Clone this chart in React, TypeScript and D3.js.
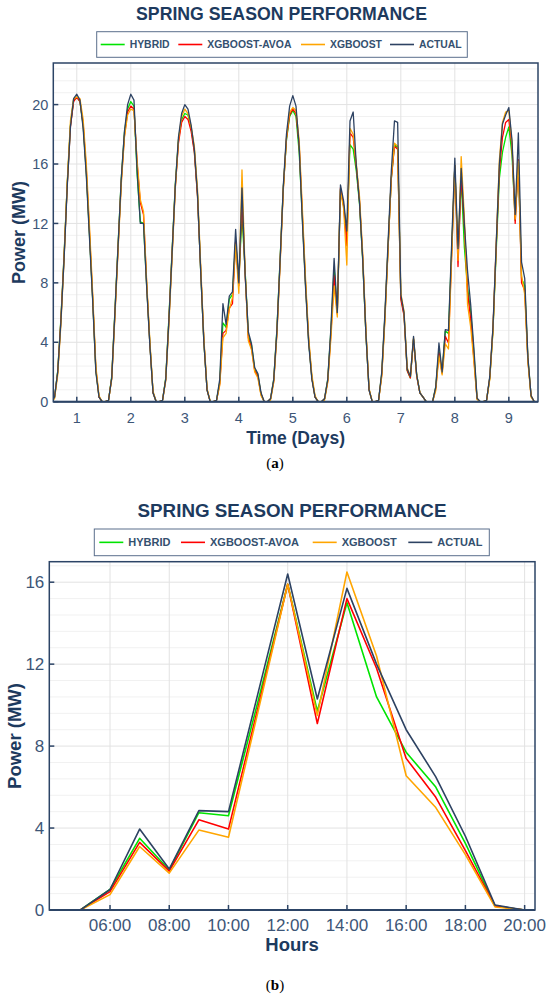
import React from 'react';
import * as d3 from 'd3';

// hourly samples 04:00 .. 20:00 for each of the 9 spring days
const HOURS = [4, 5, 6, 7, 8, 9, 10, 11, 12, 13, 14, 15, 16, 17, 18, 19, 20];
const DAY_TICKS = [1, 2, 3, 4, 5, 6, 7, 8, 9];
const HOUR_TICKS = [6, 8, 10, 12, 14, 16, 18, 20];
const POWER_TICKS_A = [0, 4, 8, 12, 16, 20];
const POWER_TICKS_B = [0, 4, 8, 12, 16];
const ZOOM_DAY = 8;

const ACTUAL = [
  [0, 0.3, 2.0, 5.4, 9.6, 14.5, 18.5, 20.4, 20.7, 20.3, 18.4, 15.2, 11.0, 6.8, 2.0, 0.3, 0],
  [0, 0.1, 1.6, 6.0, 10.5, 15.0, 18.2, 20.0, 20.7, 20.3, 15.5, 12.0, 12.0, 7.7, 3.8, 0.6, 0],
  [0, 0.1, 1.5, 5.5, 10.0, 14.5, 17.8, 19.4, 20.0, 19.7, 18.6, 17.0, 14.0, 8.8, 4.0, 0.8, 0],
  [0, 0.1, 1.5, 6.6, 5.2, 7.1, 7.4, 11.6, 8.0, 14.4, 8.5, 4.7, 3.9, 2.3, 1.9, 0.6, 0],
  [0, 0.2, 1.5, 4.8, 9.5, 14.5, 18.0, 19.9, 20.6, 19.9, 17.2, 12.2, 7.7, 3.9, 1.5, 0.3, 0],
  [0, 0.2, 1.5, 5.0, 9.65, 6.0, 14.6, 13.5, 11.5, 18.9, 19.5, 15.9, 13.4, 9.6, 4.6, 0.8, 0],
  [0, 0.1, 2.0, 6.0, 10.8, 15.5, 18.9, 18.8, 7.2, 6.0, 2.2, 1.7, 4.4, 1.8, 0.6, 0.3, 0],
  [0, 0, 1.0, 3.95, 2.0, 4.85, 4.8, 10.6, 16.4, 10.3, 15.7, 12.0, 8.8, 6.5, 3.6, 0.24, 0],
  [0, 0.1, 1.7, 5.0, 10.5, 15.9, 18.7, 19.3, 19.8, 17.6, 12.6, 18.1, 9.4, 8.3, 3.0, 0.4, 0],
];

const HYBRID = [
  [0, 0.3, 2.1, 5.6, 9.9, 14.7, 18.6, 20.3, 20.5, 20.2, 18.6, 15.4, 11.2, 6.9, 2.1, 0.3, 0],
  [0, 0.1, 1.7, 6.1, 10.6, 15.0, 18.1, 19.7, 20.2, 19.9, 15.3, 12.1, 12.0, 7.8, 3.9, 0.6, 0],
  [0, 0.1, 1.6, 5.7, 10.2, 14.6, 17.6, 19.0, 19.4, 19.3, 18.4, 16.9, 13.9, 8.8, 4.0, 0.8, 0],
  [0, 0.1, 1.3, 5.3, 5.0, 6.9, 7.2, 10.8, 8.2, 12.5, 8.8, 4.5, 3.8, 2.2, 1.8, 0.5, 0],
  [0, 0.2, 1.5, 4.9, 9.6, 14.4, 17.6, 19.2, 19.6, 19.2, 16.8, 12.4, 7.9, 4.0, 1.6, 0.3, 0],
  [0, 0.2, 1.5, 4.8, 9.0, 6.0, 14.3, 13.2, 11.2, 17.3, 17.0, 15.5, 13.3, 9.5, 4.6, 0.8, 0],
  [0, 0.1, 1.9, 5.8, 10.5, 15.0, 17.3, 17.1, 7.0, 5.9, 2.1, 1.6, 4.2, 1.8, 0.6, 0.3, 0],
  [0, 0, 1.0, 3.5, 1.95, 4.75, 4.6, 10.2, 15.9, 9.7, 15.0, 10.4, 7.7, 6.0, 3.25, 0.2, 0],
  [0, 0.1, 1.6, 4.8, 10.0, 15.0, 16.8, 17.8, 18.5, 16.6, 12.2, 16.2, 8.3, 7.8, 2.9, 0.4, 0],
];

const XGBOOST_AVOA = [
  [0, 0.3, 2.0, 5.5, 9.8, 14.6, 18.5, 20.2, 20.5, 20.2, 18.7, 15.6, 11.4, 7.0, 2.2, 0.3, 0],
  [0, 0.1, 1.6, 5.9, 10.4, 14.8, 17.9, 19.5, 19.9, 19.7, 16.0, 13.4, 12.6, 7.9, 3.9, 0.6, 0],
  [0, 0.1, 1.5, 5.5, 10.0, 14.4, 17.4, 18.8, 19.2, 19.0, 18.2, 16.8, 13.8, 8.9, 4.1, 0.8, 0],
  [0, 0.1, 1.2, 4.6, 4.8, 6.3, 6.6, 10.8, 7.8, 13.6, 8.6, 4.3, 3.6, 2.1, 1.7, 0.5, 0],
  [0, 0.2, 1.4, 4.7, 9.4, 14.3, 17.7, 19.3, 19.7, 19.4, 17.3, 12.6, 8.0, 4.1, 1.6, 0.3, 0],
  [0, 0.2, 1.4, 4.6, 8.5, 5.9, 14.4, 13.2, 10.5, 18.1, 17.8, 15.8, 13.5, 9.7, 4.7, 0.8, 0],
  [0, 0.1, 1.8, 5.7, 10.4, 15.0, 17.2, 17.0, 6.9, 5.8, 2.1, 1.6, 4.2, 1.7, 0.6, 0.3, 0],
  [0, 0, 0.9, 3.3, 1.9, 4.4, 3.95, 9.9, 15.9, 9.1, 15.2, 11.8, 7.4, 5.5, 2.9, 0.2, 0],
  [0, 0.1, 1.6, 4.9, 10.3, 15.5, 17.8, 18.8, 19.0, 17.2, 12.0, 16.3, 8.0, 7.5, 2.8, 0.4, 0],
];

const XGBOOST = [
  [0, 0.2, 1.8, 5.2, 9.6, 14.8, 18.9, 20.4, 20.5, 20.4, 19.0, 16.0, 11.8, 7.3, 2.4, 0.4, 0],
  [0, 0.1, 1.5, 5.7, 10.2, 14.6, 17.8, 19.3, 19.7, 19.6, 16.2, 13.6, 12.8, 8.1, 4.1, 0.7, 0],
  [0, 0.1, 1.4, 5.2, 9.7, 14.3, 17.6, 19.2, 19.7, 19.4, 18.5, 17.2, 14.3, 9.2, 4.3, 0.9, 0],
  [0, 0.1, 1.1, 4.3, 4.6, 6.2, 7.0, 10.6, 7.3, 15.6, 8.7, 4.1, 3.5, 2.0, 1.6, 0.4, 0],
  [0, 0.1, 1.3, 4.5, 9.2, 14.2, 17.8, 19.5, 19.8, 19.6, 17.6, 13.0, 8.3, 4.3, 1.8, 0.4, 0],
  [0, 0.1, 1.3, 4.3, 7.8, 5.7, 14.2, 13.0, 9.2, 18.4, 18.0, 16.0, 13.8, 10.0, 4.9, 0.9, 0],
  [0, 0.1, 1.7, 5.5, 10.3, 15.1, 17.4, 17.2, 7.3, 6.1, 2.3, 1.7, 4.3, 1.8, 0.6, 0.3, 0],
  [0, 0, 0.75, 3.1, 1.8, 3.9, 3.55, 9.7, 15.9, 9.5, 16.5, 12.4, 6.55, 5.0, 2.7, 0.15, 0],
  [0, 0.1, 1.5, 4.7, 10.4, 16.2, 18.8, 19.5, 19.6, 17.4, 12.3, 16.2, 8.5, 7.2, 2.7, 0.3, 0],
];

const SERIES = [
  { name: 'HYBRID', color: '#00e400', rows: HYBRID },
  { name: 'XGBOOST-AVOA', color: '#ff0000', rows: XGBOOST_AVOA },
  { name: 'XGBOOST', color: '#ffa500', rows: XGBOOST },
  { name: 'ACTUAL', color: '#2d4262', rows: ACTUAL },
];

const NAVY = '#1d3a5e';
const AXIS = '#2c4466';
const TICK_TEXT = '#3d5677';
const FONT = "'Liberation Sans', Arial, sans-serif";

type Pt = { x: number; y: number };

function Legend({ x, y, w, h, items, fontSize }: {
  x: number; y: number; w: number; h: number; fontSize: number;
  items: { name: string; color: string; lx: number }[];
}) {
  return (
    <g>
      <rect x={x} y={y} width={w} height={h} fill="#fff" stroke="#5b6f8c" strokeWidth={1} />
      {items.map((it) => (
        <g key={it.name}>
          <line x1={it.lx} x2={it.lx + 24} y1={y + h / 2} y2={y + h / 2} stroke={it.color} strokeWidth={1.6} />
          <text x={it.lx + 29} y={y + h / 2} dy="0.35em" fontSize={fontSize} fontWeight="bold"
            fill="#34506f" fontFamily={FONT}>{it.name}</text>
        </g>
      ))}
    </g>
  );
}

function Frame({ x0, x1, y0, y1, xTicks, yTicks, xScale, yScale, xFmt, tickSize, minorStep, clipId, children }: any) {
  const minor = d3.range(0, yScale.domain()[1], minorStep).filter((v: number) => !yTicks.includes(v));
  return (
    <g>
      <defs>
        <clipPath id={clipId}><rect x={x0} y={y1} width={x1 - x0} height={y0 - y1} /></clipPath>
      </defs>
      {minor.map((v: number) => (
        <line key={'m' + v} x1={x0} x2={x1} y1={yScale(v)} y2={yScale(v)} stroke="#f1f1f1" strokeWidth={1} />
      ))}
      {yTicks.map((v: number) => (
        <line key={'gy' + v} x1={x0} x2={x1} y1={yScale(v)} y2={yScale(v)} stroke="#e2e2e2" strokeWidth={1} />
      ))}
      {xTicks.map((v: number) => (
        <line key={'gx' + v} x1={xScale(v)} x2={xScale(v)} y1={y0} y2={y1} stroke="#e2e2e2" strokeWidth={1} />
      ))}
      <g clipPath={`url(#${clipId})`}>{children}</g>
      <rect x={x0} y={y1} width={x1 - x0} height={y0 - y1} fill="none" stroke={AXIS} strokeWidth={1.5} />
      <line x1={x0} x2={x1} y1={y0} y2={y0} stroke={AXIS} strokeWidth={2} />
      {xTicks.map((v: number) => (
        <g key={'tx' + v}>
          <line x1={xScale(v)} x2={xScale(v)} y1={y0} y2={y0 - 5} stroke={AXIS} strokeWidth={1.5} />
          <text x={xScale(v)} y={y0 + 21} textAnchor="middle" fontSize={tickSize} fill={TICK_TEXT} fontFamily={FONT}>
            {xFmt(v)}
          </text>
        </g>
      ))}
      {yTicks.map((v: number) => (
        <g key={'ty' + v}>
          <line x1={x0} x2={x0 + 5} y1={yScale(v)} y2={yScale(v)} stroke={AXIS} strokeWidth={1.5} />
          <text x={x0 - 5} y={yScale(v)} dy="0.36em" textAnchor="end" fontSize={tickSize} fill={TICK_TEXT} fontFamily={FONT}>
            {v}
          </text>
        </g>
      ))}
    </g>
  );
}

export default function App() {
  // panel (a): nine days
  const xA = d3.scaleLinear().domain([0.565, 9.54]).range([53.3, 538]);
  const yA = d3.scaleLinear().domain([0, 22.8]).range([401.7, 63]);
  const lineA = d3.line<Pt>().x((d) => xA(d.x)).y((d) => yA(d.y));
  const pointsA = (rows: number[][]) =>
    rows.flatMap((row, di) => row.map((v, k) => ({ x: di + 1 + (HOURS[k] - 12) / 17, y: v })));

  // panel (b): one day, hourly
  const xB = d3.scaleLinear().domain([3.95, 20.35]).range([49.3, 535]);
  const yB = d3.scaleLinear().domain([0, 17]).range([910, 561.7]);
  const lineB = d3.line<Pt>().x((d) => xB(d.x)).y((d) => yB(d.y));
  const pointsB = (rows: number[][]) => rows[ZOOM_DAY - 1].map((v, k) => ({ x: HOURS[k], y: v }));

  const hourFmt = (h: number) => `${String(h).padStart(2, '0')}:00`;

  return (
    <svg width={550} height={998} style={{ position: 'absolute', left: 0, top: 0, background: '#fff' }}>
      {/* ---------- (a) ---------- */}
      <text x={281.5} y={20} textAnchor="middle" fontSize={17.7} fontWeight="bold" fill={NAVY} fontFamily={FONT}>
        SPRING SEASON PERFORMANCE
      </text>
      <Legend x={96.7} y={31.7} w={370.6} h={25.6} fontSize={10.4}
        items={SERIES.map((s, i) => ({ name: s.name, color: s.color, lx: [100.7, 178.3, 301, 390][i] }))} />
      <Frame x0={53.3} x1={538} y0={401.7} y1={63} xTicks={DAY_TICKS} yTicks={POWER_TICKS_A}
        xScale={xA} yScale={yA} xFmt={(v: number) => v} tickSize={14.5} minorStep={0.8} clipId="clipA">
        {SERIES.map((s) => (
          <path key={s.name} d={lineA(pointsA(s.rows)) || ''} fill="none" stroke={s.color}
            strokeWidth={1.3} strokeLinejoin="round" />
        ))}
      </Frame>
      <text transform={`translate(25,232.5) rotate(-90)`} textAnchor="middle" fontSize={18} fontWeight="bold"
        fill={NAVY} fontFamily={FONT}>Power (MW)</text>
      <text x={295.6} y={444} textAnchor="middle" fontSize={17.5} fontWeight="bold" fill={NAVY} fontFamily={FONT}>
        Time (Days)
      </text>
      <text x={275} y={468} textAnchor="middle" fontSize={15} fill="#000" fontFamily="'Liberation Serif', serif">
        (<tspan fontWeight="bold">a</tspan>)
      </text>

      {/* ---------- (b) ---------- */}
      <text x={292} y={517.3} textAnchor="middle" fontSize={18.8} fontWeight="bold" fill={NAVY} fontFamily={FONT}>
        SPRING SEASON PERFORMANCE
      </text>
      <Legend x={94.3} y={529} w={395} h={26.7} fontSize={11}
        items={SERIES.map((s, i) => ({ name: s.name, color: s.color, lx: [99.3, 181, 312.7, 408.3][i] }))} />
      <Frame x0={49.3} x1={535} y0={910} y1={561.7} xTicks={HOUR_TICKS} yTicks={POWER_TICKS_B}
        xScale={xB} yScale={yB} xFmt={hourFmt} tickSize={17} minorStep={0.8} clipId="clipB">
        {SERIES.map((s) => (
          <path key={s.name} d={lineB(pointsB(s.rows)) || ''} fill="none" stroke={s.color}
            strokeWidth={1.6} strokeLinejoin="round" />
        ))}
      </Frame>
      <text transform={`translate(21,736) rotate(-90)`} textAnchor="middle" fontSize={18.5} fontWeight="bold"
        fill={NAVY} fontFamily={FONT}>Power (MW)</text>
      <text x={292} y={951} textAnchor="middle" fontSize={18.5} fontWeight="bold" fill={NAVY} fontFamily={FONT}>
        Hours
      </text>
      <text x={275} y={990} textAnchor="middle" fontSize={15} fill="#000" fontFamily="'Liberation Serif', serif">
        (<tspan fontWeight="bold">b</tspan>)
      </text>
    </svg>
  );
}
